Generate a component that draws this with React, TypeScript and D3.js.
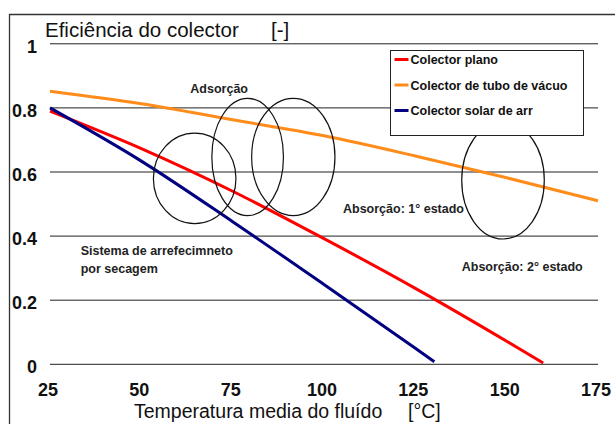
import { useRef, useEffect } from "react";
import * as d3 from "d3";

// Collector efficiency vs mean fluid temperature
const tempTicks = [25, 50, 75, 100, 125, 150, 175];
const effTicks = [0, 0.2, 0.4, 0.6, 0.8, 1];
const effTickLabels = ["0", "0.2", "0.4", "0.6", "0.8", "1"];

const planoTemp = [25, 50, 75, 100, 125, 150, 160];
const planoEff = [0.79, 0.673, 0.54, 0.392, 0.237, 0.072, 0.004];

const vacuoTemp = [25, 50, 75, 100, 125, 150, 175];
const vacuoEff = [0.852, 0.813, 0.763, 0.713, 0.65, 0.582, 0.51];

const arTemp = [25, 50, 75, 100, 125, 130.2];
const arEff = [0.8, 0.634, 0.445, 0.249, 0.05, 0.008];

const seriesNames = ["Colector plano", "Colector de tubo de vácuo", "Colector solar de arr"];
const seriesColors = ["#ff0000", "#ff8c1a", "#000080"];

// hand-drawn ellipses (centre + radii in data units)
const ellipseTemp = [64.6, 79.1, 91.6, 149.0];
const ellipseEff = [0.58, 0.647, 0.647, 0.574];
const ellipseRadTemp = [11.3, 9.8, 11.4, 11.3];
const ellipseRadEff = [0.141, 0.183, 0.183, 0.183];

const noteTexts = ["Adsorção", "Absorção: 1° estado", "Sistema de arrefecimneto", "por secagem", "Absorção: 2° estado"];
const noteTemp = [71.3, 105.2, 33.4, 33.4, 137.7];
const noteEff = [0.846, 0.472, 0.341, 0.285, 0.291];

const W = 615;
const H = 424;
const FONT = "'Liberation Sans', Arial, sans-serif";

export default function App() {
  const svgRef = useRef<SVGSVGElement | null>(null);

  useEffect(() => {
    const svg = d3.select(svgRef.current);
    svg.selectAll("*").remove();

    const x = d3.scaleLinear().domain([25, 175]).range([50, 598]);
    const y = d3.scaleLinear().domain([0, 1]).range([364.3, 43.8]);

    svg.append("rect").attr("width", W).attr("height", H).attr("fill", "#fff");

    // outer frame (top + left)
    svg
      .append("path")
      .attr("d", `M9.5,${H} V14.5 H${W}`)
      .attr("fill", "none")
      .attr("stroke", "#333")
      .attr("stroke-width", 1.3);

    // horizontal grid lines
    svg
      .selectAll("line.grid")
      .data(effTicks)
      .join("line")
      .attr("class", "grid")
      .attr("x1", x(25))
      .attr("x2", x(175))
      .attr("y1", (d) => y(d))
      .attr("y2", (d) => y(d))
      .attr("stroke", "#222")
      .attr("stroke-width", 1);

    // y tick labels
    svg
      .selectAll("text.ylab")
      .data(effTicks)
      .join("text")
      .attr("class", "ylab")
      .attr("x", 37)
      .attr("y", (d) => y(d) + 9)
      .attr("text-anchor", "end")
      .attr("font-family", FONT)
      .attr("font-size", 18)
      .attr("font-weight", "bold")
      .attr("fill", "#111")
      .text((_, i) => effTickLabels[i]);

    // x tick labels
    svg
      .selectAll("text.xlab")
      .data(tempTicks)
      .join("text")
      .attr("class", "xlab")
      .attr("x", (d) => x(d) - 2)
      .attr("y", 396)
      .attr("text-anchor", "middle")
      .attr("font-family", FONT)
      .attr("font-size", 18)
      .attr("font-weight", "bold")
      .attr("fill", "#111")
      .text((d) => d);

    // titles
    svg
      .append("text")
      .attr("x", 45)
      .attr("y", 37)
      .attr("font-family", FONT)
      .attr("font-size", 20.5)
      .attr("fill", "#111")
      .text("Eficiência do colector");
    svg
      .append("text")
      .attr("x", 271)
      .attr("y", 37)
      .attr("font-family", FONT)
      .attr("font-size", 20.5)
      .attr("fill", "#111")
      .text("[-]");
    svg
      .append("text")
      .attr("x", 134)
      .attr("y", 418)
      .attr("font-family", FONT)
      .attr("font-size", 19.5)
      .attr("fill", "#111")
      .text("Temperatura media do fluído");
    svg
      .append("text")
      .attr("x", 408)
      .attr("y", 418)
      .attr("font-family", FONT)
      .attr("font-size", 19.5)
      .attr("fill", "#111")
      .text("[°C]");

    // curves
    const series = [
      { t: planoTemp, e: planoEff },
      { t: vacuoTemp, e: vacuoEff },
      { t: arTemp, e: arEff },
    ];
    const line = d3
      .line<[number, number]>()
      .x((d) => x(d[0]))
      .y((d) => y(d[1]))
      .curve(d3.curveMonotoneX);

    svg
      .selectAll("path.curve")
      .data(series)
      .join("path")
      .attr("class", "curve")
      .attr("fill", "none")
      .attr("stroke", (_, i) => seriesColors[i])
      .attr("stroke-width", 3)
      .attr("d", (s) => line(s.t.map((t, i) => [t, s.e[i]] as [number, number])));

    // ellipses
    svg
      .selectAll("ellipse.note")
      .data(ellipseTemp)
      .join("ellipse")
      .attr("class", "note")
      .attr("cx", (d) => x(d))
      .attr("cy", (_, i) => y(ellipseEff[i]))
      .attr("rx", (_, i) => x(25 + ellipseRadTemp[i]) - x(25))
      .attr("ry", (_, i) => y(0) - y(ellipseRadEff[i]))
      .attr("fill", "none")
      .attr("stroke", "#111")
      .attr("stroke-width", 1.2);

    // annotations
    svg
      .selectAll("text.note")
      .data(noteTexts)
      .join("text")
      .attr("class", "note")
      .attr("x", (_, i) => x(noteTemp[i]))
      .attr("y", (_, i) => y(noteEff[i]))
      .attr("text-anchor", (_, i) => (i === 0 ? "middle" : "start"))
      .attr("font-family", FONT)
      .attr("font-size", 12.5)
      .attr("font-weight", "bold")
      .attr("fill", "#222")
      .text((d) => d);

    // legend
    const lg = svg.append("g").attr("transform", "translate(390.5,50.5)");
    lg.append("rect")
      .attr("width", 193)
      .attr("height", 85)
      .attr("fill", "#fff")
      .attr("stroke", "#222")
      .attr("stroke-width", 1);
    const item = lg
      .selectAll("g.item")
      .data(seriesNames)
      .join("g")
      .attr("class", "item")
      .attr("transform", (_, i) => `translate(0,${9 + i * 25.5})`);
    item
      .append("line")
      .attr("x1", 4)
      .attr("x2", 18)
      .attr("y1", 0)
      .attr("y2", 0)
      .attr("stroke", (_, i) => seriesColors[i])
      .attr("stroke-width", 3);
    item
      .append("text")
      .attr("x", 20)
      .attr("y", 4.5)
      .attr("font-family", FONT)
      .attr("font-size", 12.5)
      .attr("font-weight", "bold")
      .attr("fill", "#111")
      .text((d) => d);
  }, []);

  return (
    <svg
      ref={svgRef}
      width={W}
      height={H}
      style={{ position: "absolute", left: 0, top: 0, display: "block" }}
    />
  );
}
